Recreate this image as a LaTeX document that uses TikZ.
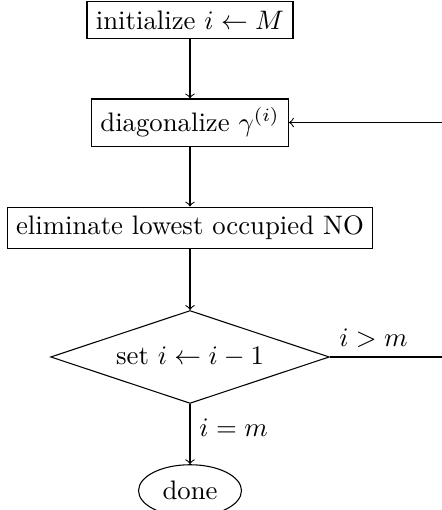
\documentclass[tikz,border=0pt]{standalone}
\usetikzlibrary{shapes.geometric}
\begin{document}
\begin{tikzpicture}[>=to,
        stepbox/.style={draw, rectangle},
        decision/.style={draw, diamond, aspect=3},
        endnode/.style={draw, ellipse}]

        \useasboundingbox (-2.497,0) rectangle (3.311,-6.702);

        \node[stepbox] (init) at (0,-0.263) {initialize $i \leftarrow M$};
        \node[stepbox] (diag) at (0,-1.610) {diagonalize $\gamma^{(i)}$};
        \node[stepbox] (elim) at (0,-2.996) {eliminate lowest occupied NO};
        \node[decision] (dec) at (0,-4.691) {set $i \leftarrow i-1$};
        \node[endnode] (done) at (0,-6.448) {done};
        \coordinate (loop) at (3.8,-4.691);

        \draw[->] (init) -- (diag);
        
        \draw[->] (diag) -- (elim);
        
        \draw[->] (elim) -- (dec);
        
        \draw[->] (dec) -- node[right, pos=0.4] {$i=m$} (done);
        
        \draw[->] (dec.east) node[above right] {$i>m$} -- (loop) |- (diag.east);
        
        \end{tikzpicture}
\end{document}
